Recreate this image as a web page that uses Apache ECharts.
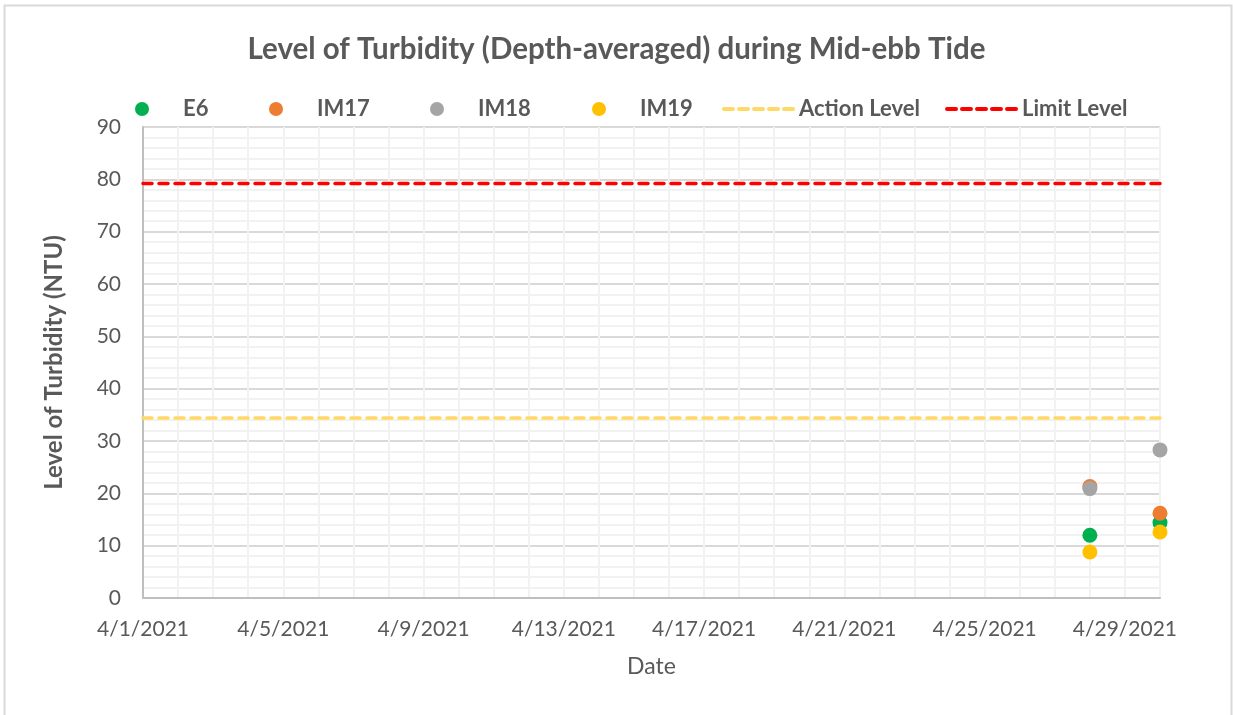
<!DOCTYPE html>
<html>
<head>
<meta charset="utf-8">
<title>Level of Turbidity</title>
<script src="https://cdn.jsdelivr.net/npm/echarts@6/dist/echarts.min.js"></script>
<style>
    html, body { margin: 0; padding: 0; background: #ffffff; }
    #chart { width: 1233px; height: 715px; }
</style>
</head>
<body>
<div id="chart"></div>
<script>
// Data
const startDate = "2021-04-01";
const endDate = "2021-04-30";
const sampleDates = ["2021-04-28", "2021-04-30"];
const e6 = [12.0, 14.4];
const im17 = [21.3, 16.2];
const im18 = [20.9, 28.3];
const im19 = [8.8, 12.6];
const actionLevel = 34.4;
const limitLevel = 79.2;

const textColor = "#595959";
const fontFamily = "Lato, 'Open Sans', sans-serif";

document.addEventListener("DOMContentLoaded", function () {
    const chartDom = document.getElementById("chart");
    const myChart = echarts.init(chartDom);

    const dayMs = 24 * 3600 * 1000;
    const t0 = Date.parse(startDate);
    const toDay = d => Math.round((Date.parse(d) - t0) / dayMs);
    const lastDay = toDay(endDate);

    function dayLabel(v) {
        if (v % 4 !== 0) return "";
        const d = new Date(t0 + v * dayMs);
        return (d.getUTCMonth() + 1) + "/" + d.getUTCDate() + "/" + d.getUTCFullYear();
    }

    const pointSeries = (name, values, color) => ({
        name: name,
        type: "scatter",
        xAxisIndex: 0,
        symbol: "circle",
        symbolSize: 15,
        itemStyle: { color: color, opacity: 1 },
        data: sampleDates.map((d, i) => [toDay(d), values[i]]),
        z: 5
    });

    const levelSeries = (name, value, color) => ({
        name: name,
        type: "line",
        xAxisIndex: 0,
        symbol: "none",
        lineStyle: { color: color, width: 3.5, type: [9, 7], cap: "round" },
        itemStyle: { color: color },
        data: [[0, value], [lastDay, value]],
        z: 3
    });

    const legendText = { color: textColor, fontSize: 22, fontWeight: "bold", fontFamily: fontFamily };
    const circleLegend = (name, center) => ({
        top: 93,
        left: center - 12,
        itemWidth: 72,
        itemHeight: 14,
        textStyle: legendText,
        data: [{ name: name, icon: "circle" }]
    });
    const lineLegend = (name, left) => ({
        top: 93,
        left: left - 5,
        itemWidth: 70,
        itemHeight: 14,
        textStyle: legendText,
        lineStyle: { width: 4, type: [9, 6], cap: "round" },
        itemStyle: { color: "rgba(0,0,0,0)", borderWidth: 0, opacity: 0 },
        data: [name]
    });

    const option = {
        animation: false,
        backgroundColor: "#ffffff",
        title: {
            text: "Level of Turbidity (Depth-averaged) during Mid-ebb Tide",
            left: "center",
            top: 29,
            textStyle: { color: textColor, fontSize: 29.5, fontWeight: "bold", fontFamily: fontFamily }
        },
        legend: [
            circleLegend("E6", 142),
            circleLegend("IM17", 276),
            circleLegend("IM18", 437),
            circleLegend("IM19", 599),
            lineLegend("Action Level", 722),
            lineLegend("Limit Level", 945)
        ],
        grid: { left: 143, right: 73, top: 127, bottom: 117 },
        xAxis: [
            {
                type: "value",
                min: 0,
                max: lastDay,
                interval: 4,
                name: "Date",
                nameLocation: "middle",
                nameGap: 57,
                nameTextStyle: { color: textColor, fontSize: 23, fontFamily: fontFamily },
                axisLine: { show: true, lineStyle: { color: "#BFBFBF", width: 2 } },
                axisTick: { show: false },
                axisLabel: {
                    color: textColor, fontSize: 21, fontFamily: fontFamily, margin: 21,
                    formatter: dayLabel
                },
                splitLine: { show: true, lineStyle: { color: "#D9D9D9", width: 2 } }
            },
            {
                // minor day grid
                type: "value",
                min: 0,
                max: lastDay,
                interval: 1,
                position: "bottom",
                axisLine: { show: false },
                axisTick: { show: false },
                axisLabel: { show: false },
                splitLine: { show: true, lineStyle: { color: "#F2F2F2", width: 2 } }
            }
        ],
        yAxis: {
            type: "value",
            min: 0,
            max: 90,
            interval: 10,
            name: "Level of Turbidity (NTU)",
            nameLocation: "middle",
            nameGap: 77,
            nameTextStyle: { color: textColor, fontSize: 24, fontWeight: "bold", fontFamily: fontFamily },
            axisLine: { show: true, lineStyle: { color: "#BFBFBF", width: 2 } },
            axisTick: { show: false },
            axisLabel: { color: textColor, fontSize: 21, fontFamily: fontFamily, margin: 22 },
            splitLine: { show: true, lineStyle: { color: "#D9D9D9", width: 2 } },
            minorTick: { show: false, splitNumber: 5 },
            minorSplitLine: { show: true, lineStyle: { color: "#F2F2F2", width: 2 } }
        },
        graphic: [{
            type: "rect",
            shape: { x: 4.5, y: 5.5, width: 1227, height: 720 },
            style: { fill: null, stroke: "#D9D9D9", lineWidth: 2 },
            silent: true
        }],
        series: [
            pointSeries("E6", e6, "#00B050"),
            pointSeries("IM17", im17, "#ED7D31"),
            pointSeries("IM18", im18, "#A5A5A5"),
            pointSeries("IM19", im19, "#FFC000"),
            levelSeries("Action Level", actionLevel, "#FFD966"),
            levelSeries("Limit Level", limitLevel, "#FF0000")
        ]
    };

    myChart.setOption(option);
});
</script>
</body>
</html>
